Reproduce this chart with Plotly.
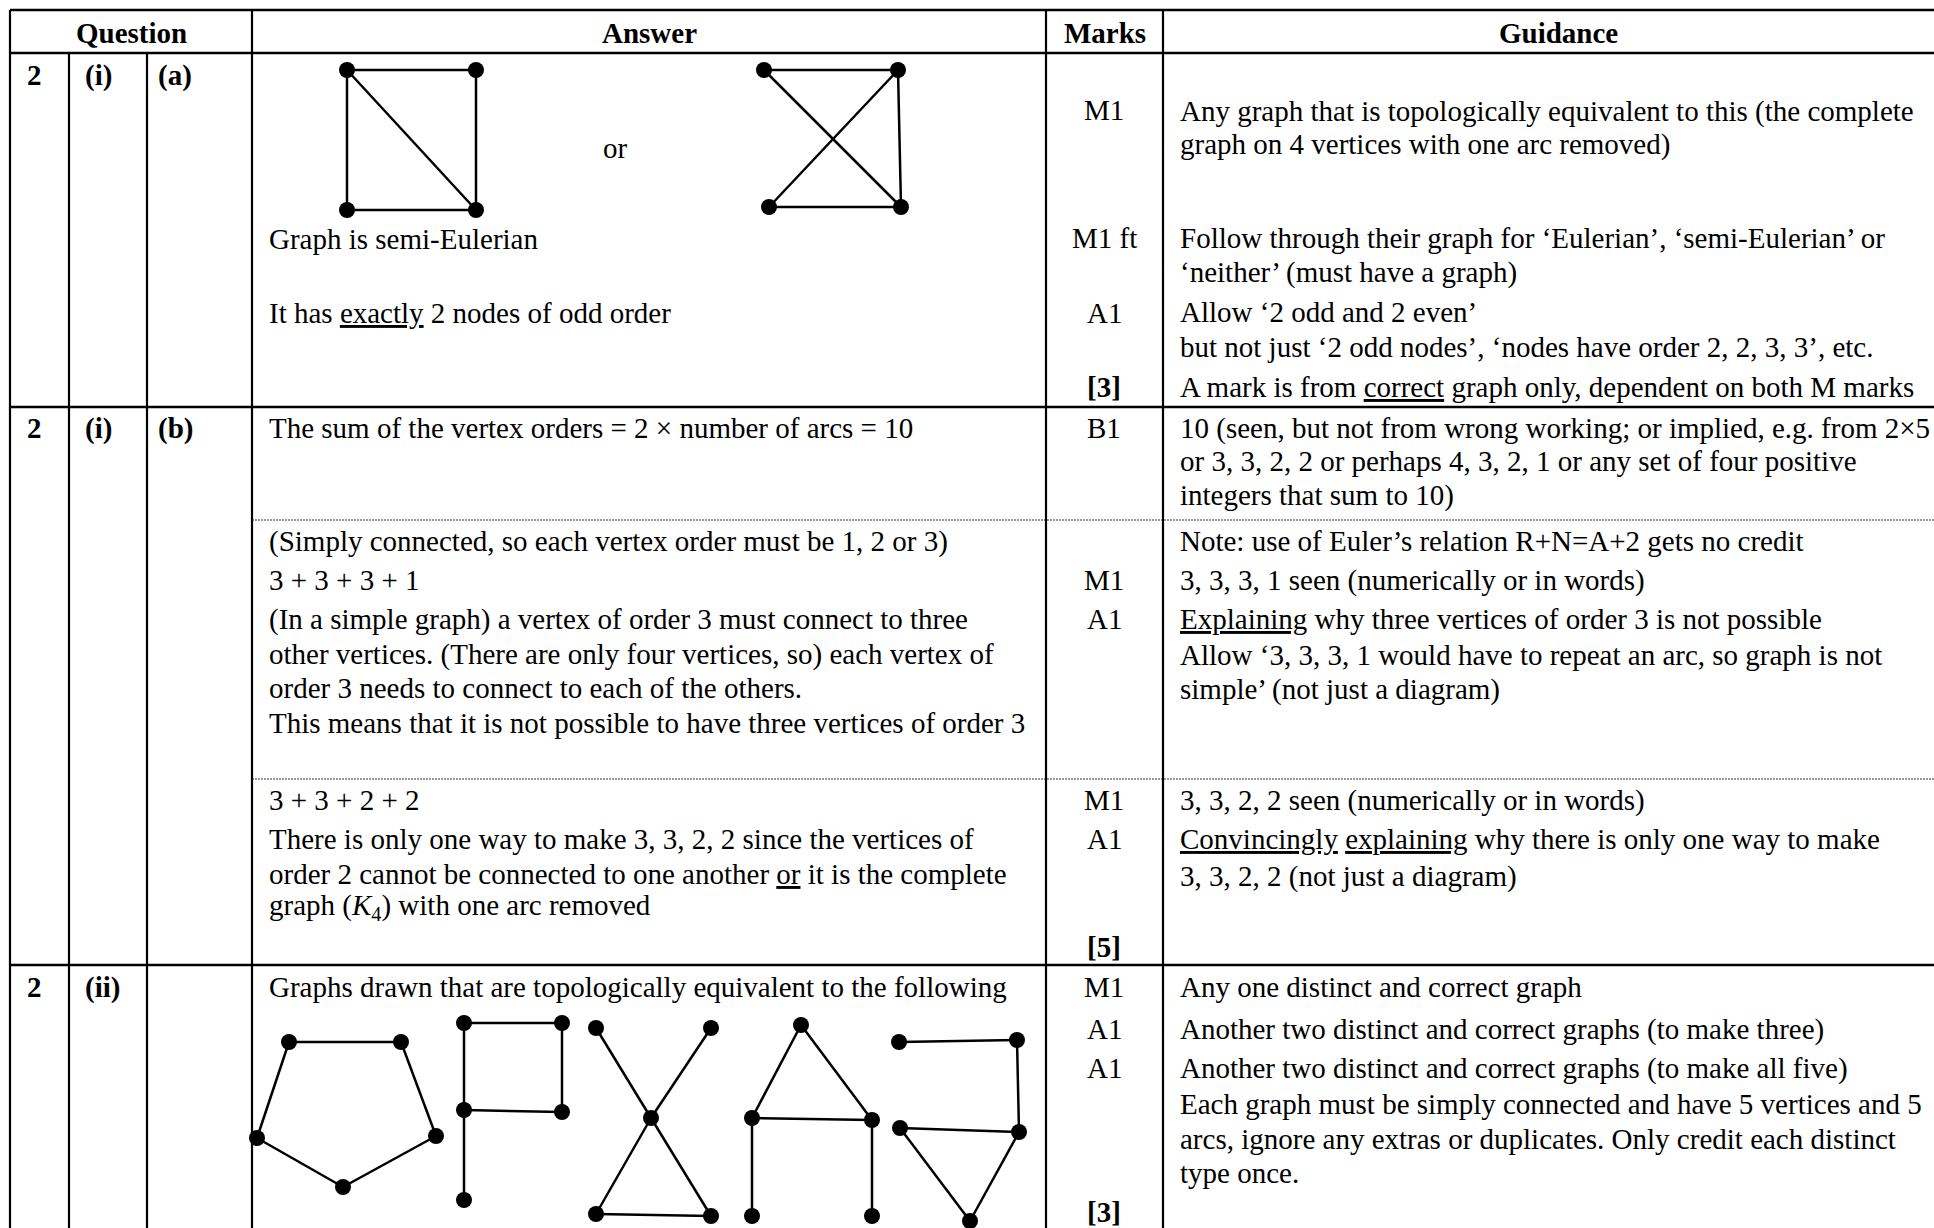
import plotly.graph_objects as go

# ---------------- data ----------------
HEADERS = ["Question", "Answer", "Marks", "Guidance"]

Q_NUMBERS = ["2", "2", "2"]
Q_PARTS = ["(i)", "(i)", "(ii)"]
Q_SUBPARTS = ["(a)", "(b)", ""]

ANSWER_A = [
    "Graph is semi-Eulerian",
    "It has <u>exactly</u> 2 nodes of odd order",
]
OR_TEXT = "or"
MARKS_A = ["M1", "M1 ft", "A1", "<b>[3]</b>"]
GUIDANCE_A = [
    "Any graph that is topologically equivalent to this (the complete",
    "graph on 4 vertices with one arc removed)",
    "Follow through their graph for \u2018Eulerian\u2019, \u2018semi-Eulerian\u2019 or",
    "\u2018neither\u2019 (must have a graph)",
    "Allow \u20182 odd and 2 even\u2019",
    "but not just \u20182 odd nodes\u2019, \u2018nodes have order 2, 2, 3, 3\u2019, etc.",
    "A mark is from <u>correct</u> graph only, dependent on both M marks",
]

ANSWER_B = [
    "The sum of the vertex orders = 2 \u00d7 number of arcs = 10",
    "(Simply connected, so each vertex order must be 1, 2 or 3)",
    "3 + 3 + 3 + 1",
    "(In a simple graph) a vertex of order 3 must connect to three",
    "other vertices. (There are only four vertices, so) each vertex of",
    "order 3 needs to connect to each of the others.",
    "This means that it is not possible to have three vertices of order 3",
    "3 + 3 + 2 + 2",
    "There is only one way to make 3, 3, 2, 2 since the vertices of",
    "order 2 cannot be connected to one another <u>or</u> it is the complete",
    "graph (<i>K</i><sub>4</sub>) with one arc removed",
]
MARKS_B = ["B1", "M1", "A1", "M1", "A1", "<b>[5]</b>"]
GUIDANCE_B = [
    "10 (seen, but not from wrong working; or implied, e.g. from 2\u00d75",
    "or 3, 3, 2, 2 or perhaps 4, 3, 2, 1 or any set of four positive",
    "integers that sum to 10)",
    "Note: use of Euler\u2019s relation R+N=A+2 gets no credit",
    "3, 3, 3, 1 seen (numerically or in words)",
    "<u>Explaining</u> why three vertices of order 3 is not possible",
    "Allow \u20183, 3, 3, 1 would have to repeat an arc, so graph is not",
    "simple\u2019 (not just a diagram)",
    "3, 3, 2, 2 seen (numerically or in words)",
    "<u>Convincingly</u> <u>explaining</u> why there is only one way to make",
    "3, 3, 2, 2 (not just a diagram)",
]

ANSWER_C = ["Graphs drawn that are topologically equivalent to the following"]
MARKS_C = ["M1", "A1", "A1", "<b>[3]</b>"]
GUIDANCE_C = [
    "Any one distinct and correct graph",
    "Another two distinct and correct graphs (to make three)",
    "Another two distinct and correct graphs (to make all five)",
    "Each graph must be simply connected and have 5 vertices and 5",
    "arcs, ignore any extras or duplicates. Only credit each distinct",
    "type once.",
]

# graph drawings: node coordinates (page pixels) and edges (index pairs)
G1_X = [347, 476, 347, 476]
G1_Y = [70, 70, 210, 210]
G1_EDGES = [(0, 1), (0, 2), (2, 3), (1, 3), (0, 3)]

G2_X = [764, 898, 769, 901]
G2_Y = [70, 70, 207, 207]
G2_EDGES = [(0, 1), (2, 3), (0, 3), (1, 2), (1, 3)]

PENT_X = [289, 401, 436, 343, 257]
PENT_Y = [1042, 1042, 1136, 1187, 1138]
PENT_EDGES = [(0, 1), (1, 2), (2, 3), (3, 4), (4, 0)]

F_X = [464, 562, 464, 562, 464]
F_Y = [1023, 1023, 1110, 1112, 1200]
F_EDGES = [(0, 1), (1, 3), (2, 3), (0, 2), (2, 4)]

X_X = [596, 711, 651, 596, 711]
X_Y = [1028, 1028, 1118, 1214, 1216]
X_EDGES = [(0, 2), (2, 4), (1, 2), (2, 3), (3, 4)]

A_X = [801, 752, 872, 752, 872]
A_Y = [1025, 1118, 1120, 1216, 1216]
A_EDGES = [(0, 1), (0, 2), (1, 2), (1, 3), (2, 4)]

T_X = [899, 1017, 900, 1019, 970]
T_Y = [1042, 1040, 1128, 1132, 1221]
T_EDGES = [(0, 1), (1, 3), (2, 3), (2, 4), (3, 4)]

GRAPHS = [
    (G1_X, G1_Y, G1_EDGES),
    (G2_X, G2_Y, G2_EDGES),
    (PENT_X, PENT_Y, PENT_EDGES),
    (F_X, F_Y, F_EDGES),
    (X_X, X_Y, X_EDGES),
    (A_X, A_Y, A_EDGES),
    (T_X, T_Y, T_EDGES),
]

# ---------------- layout constants ----------------
W, H = 1934, 1228
COL_X = [10, 69, 147, 252, 1046, 1163, 1965]
Y_TOP, Y_HEAD, Y_R1, Y_D1, Y_D2, Y_R2, Y_BOT = 10, 53, 407, 520, 779, 965, 1240

FONT = "Liberation Serif, Times New Roman, serif"
FS = 29

X_ANS = 267
X_GUI = 1178
X_MARK = 1104

fig = go.Figure()

# graph edges and nodes
for gx, gy, edges in GRAPHS:
    ex, ey = [], []
    for a, b in edges:
        ex += [gx[a], gx[b], None]
        ey += [gy[a], gy[b], None]
    fig.add_trace(go.Scatter(x=ex, y=ey, mode="lines",
                             line=dict(color="black", width=2.5),
                             hoverinfo="skip", showlegend=False))
    fig.add_trace(go.Scatter(x=gx, y=gy, mode="markers",
                             marker=dict(color="black", size=16),
                             hoverinfo="skip", showlegend=False))

shapes = []
def hline(y, x0, x1, w=2.5, dash="solid", color="black"):
    shapes.append(dict(type="line", xref="x", yref="y", x0=x0, x1=x1, y0=y, y1=y,
                       line=dict(color=color, width=w, dash=dash)))
def vline(x, y0, y1, w=2.2):
    shapes.append(dict(type="line", xref="x", yref="y", x0=x, x1=x, y0=y0, y1=y1,
                       line=dict(color="black", width=w)))

for y in [Y_TOP, Y_HEAD, Y_R1, Y_R2]:
    hline(y, COL_X[0], COL_X[-1])
for y in [Y_D1, Y_D2]:
    hline(y, COL_X[3], COL_X[-1], w=1.2, dash="2px,1px", color="#333333")
vline(COL_X[0], Y_TOP, Y_BOT)
vline(COL_X[1], Y_HEAD, Y_BOT)
vline(COL_X[2], Y_HEAD, Y_BOT)
vline(COL_X[3], Y_TOP, Y_BOT)
vline(COL_X[4], Y_TOP, Y_BOT)
vline(COL_X[5], Y_TOP, Y_BOT)

annotations = []
def txt(x, y, s, anchor="left", bold=False):
    annotations.append(dict(x=x, y=y, xref="x", yref="y", text=(f"<b>{s}</b>" if bold else s),
                            showarrow=False, xanchor=anchor, yanchor="middle",
                            font=dict(family=FONT, size=FS, color="black")))

# headers
HEAD_X = [(COL_X[0] + COL_X[3]) / 2, (COL_X[3] + COL_X[4]) / 2,
          (COL_X[4] + COL_X[5]) / 2, 1558]
for hx, h in zip(HEAD_X, HEADERS):
    txt(hx, 33, h, anchor="center", bold=True)

# question columns
ROW_Y = [75, 428, 987]
for ry, n, p, sp in zip(ROW_Y, Q_NUMBERS, Q_PARTS, Q_SUBPARTS):
    txt(25, ry, n, bold=True)
    txt(83, ry, p, bold=True)
    if sp:
        txt(156, ry, sp, bold=True)

# row (a)
txt(615, 148, OR_TEXT, anchor="center")
for y, s in zip([239, 313], ANSWER_A):
    txt(X_ANS, y, s)
for y, s in zip([110, 238, 313, 387], MARKS_A):
    txt(X_MARK, y, s, anchor="center")
for y, s in zip([111, 144, 238, 272, 312, 347, 387], GUIDANCE_A):
    txt(X_GUI, y, s)

# row (b)
for y, s in zip([428, 541, 580, 619, 654, 688, 723, 800, 839, 874, 907], ANSWER_B):
    txt(X_ANS, y, s)
for y, s in zip([428, 580, 619, 800, 839, 947], MARKS_B):
    txt(X_MARK, y, s, anchor="center")
for y, s in zip([428, 461, 495, 541, 580, 619, 655, 689, 800, 839, 876], GUIDANCE_B):
    txt(X_GUI, y, s)

# row (ii)
for y, s in zip([987], ANSWER_C):
    txt(X_ANS, y, s)
for y, s in zip([987, 1029, 1068, 1212], MARKS_C):
    txt(X_MARK, y, s, anchor="center")
for y, s in zip([987, 1029, 1068, 1104, 1139, 1173], GUIDANCE_C):
    txt(X_GUI, y, s)

fig.update_layout(
    width=W, height=H,
    margin=dict(l=0, r=0, t=0, b=0),
    paper_bgcolor="white", plot_bgcolor="white",
    xaxis=dict(range=[0, W], visible=False, fixedrange=True),
    yaxis=dict(range=[H, 0], visible=False, fixedrange=True),
    shapes=shapes, annotations=annotations,
    showlegend=False,
)

fig.write_html("out.html", config={"displayModeBar": False},
               post_script="document.body.style.margin='0';document.body.style.overflow='hidden';")
